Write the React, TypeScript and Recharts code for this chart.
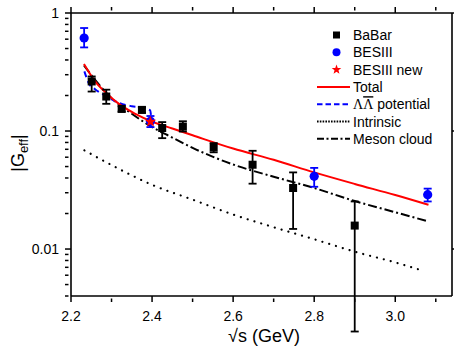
import {
  ComposedChart,
  XAxis,
  YAxis,
  Line,
  Scatter,
  ErrorBar,
  Legend,
  Label,
} from 'recharts';

const FONT = 'Arial, "Liberation Sans", sans-serif';

// axis ticks
const X_TICKS = [2.2, 2.3, 2.4, 2.5, 2.6, 2.7, 2.8, 2.9, 3.0, 3.1];
const X_LABELS = [2.2, 2.4, 2.6, 2.8, 3.0];
const Y_TICKS = [
  0.004, 0.005, 0.006, 0.007, 0.008, 0.009,
  0.01, 0.02, 0.03, 0.04, 0.05, 0.06, 0.07, 0.08, 0.09,
  0.1, 0.2, 0.3, 0.4, 0.5, 0.6, 0.7, 0.8, 0.9, 1,
];
const Y_LABELS = [0.01, 0.1, 1];

// BaBar
const BABAR_X = [2.251, 2.287, 2.325, 2.375, 2.425, 2.476, 2.552, 2.648, 2.748, 2.9];
const BABAR_Y = [0.263, 0.196, 0.154, 0.151, 0.106, 0.109, 0.0726, 0.0518, 0.0329, 0.0158];
const BABAR_LO = [0.216, 0.17, 0.146, 0.143, 0.087, 0.099, 0.066, 0.0358, 0.0148, 0.002];
const BABAR_HI = [0.29, 0.224, 0.162, 0.159, 0.119, 0.121, 0.079, 0.068, 0.0446, 0.0253];

// BESIII
const BES_X = [2.2324, 2.396, 2.8, 3.08];
const BES_Y = [0.614, 0.121, 0.0413, 0.0289];
const BES_LO = [0.511, 0.108, 0.0337, 0.0253];
const BES_HI = [0.746, 0.134, 0.0487, 0.0325];

// BESIII new
const NEW_X = [2.396];
const NEW_Y = [0.12];

// model curves
const TOTAL_X = [2.232, 2.26, 2.29, 2.32, 2.36, 2.4, 2.45, 2.5, 2.6, 2.7, 2.8, 2.9, 3.0, 3.082];
const TOTAL_Y = [0.37, 0.262, 0.205, 0.168, 0.139, 0.12, 0.105, 0.092, 0.071, 0.057, 0.0446, 0.0356, 0.0287, 0.0237];

const POT_X = [2.233, 2.245, 2.26, 2.29, 2.32, 2.35, 2.38, 2.395, 2.4];
const POT_Y = [0.32, 0.25, 0.225, 0.195, 0.172, 0.162, 0.157, 0.15, 0.108];

const INTR_X = [2.233, 2.3, 2.4, 2.5, 2.6, 2.7, 2.8, 2.9, 3.0, 3.065];
const INTR_Y = [0.0686, 0.0515, 0.035, 0.0262, 0.0196, 0.0153, 0.0121, 0.0095, 0.0077, 0.0066];

const MESON_X = [2.232, 2.26, 2.3, 2.35, 2.4, 2.45, 2.5, 2.6, 2.7, 2.8, 2.9, 3.0, 3.082];
const MESON_Y = [0.36, 0.27, 0.19, 0.14, 0.108, 0.088, 0.072, 0.052, 0.041, 0.0329, 0.0255, 0.0205, 0.0171];

const LEGEND_LABELS = ['BaBar', 'BESIII', 'BESIII new', 'Total', 'ΛΛ potential', 'Intrinsic', 'Meson cloud'];

const points = (xs: number[], ys: number[], lo?: number[], hi?: number[]) =>
  xs.map((x, i) => ({
    x,
    y: ys[i],
    err: lo && hi ? [ys[i] - lo[i], hi[i] - ys[i]] : undefined,
  }));

const babar = points(BABAR_X, BABAR_Y, BABAR_LO, BABAR_HI);
const besiii = points(BES_X, BES_Y, BES_LO, BES_HI);
const besNew = points(NEW_X, NEW_Y);
const total = points(TOTAL_X, TOTAL_Y);
const potential = points(POT_X, POT_Y);
const intrinsic = points(INTR_X, INTR_Y);
const meson = points(MESON_X, MESON_Y);

const starPath = (cx: number, cy: number, r: number) => {
  let d = '';
  for (let i = 0; i < 10; i++) {
    const rr = i % 2 === 0 ? r : r * 0.42;
    const a = -Math.PI / 2 + (i * Math.PI) / 5;
    d += (i === 0 ? 'M' : 'L') + (cx + rr * Math.cos(a)).toFixed(2) + ',' + (cy + rr * Math.sin(a)).toFixed(2);
  }
  return d + 'Z';
};

const Square = (p: any) => <rect x={p.cx - 4} y={p.cy - 4} width={8} height={8} fill="#000" />;
const Dot = (p: any) => <circle cx={p.cx} cy={p.cy} r={4.6} fill="#0000ff" />;
const Star = (p: any) => <path d={starPath(p.cx, p.cy, 6)} fill="#ff0000" />;

// ticks point inward; labels only on major ticks
const BottomTick = ({ x, y, payload }: any) => {
  const major = X_LABELS.includes(payload.value);
  return (
    <g>
      <line x1={x} x2={x} y1={y} y2={y - (major ? 6 : 3.5)} stroke="#000" strokeWidth={1.5} />
      {major && (
        <text x={x} y={y + 19} textAnchor="middle" fontSize={14} fontFamily={FONT} fill="#000">
          {payload.value.toFixed(1)}
        </text>
      )}
    </g>
  );
};

const TopTick = ({ x, y, payload }: any) => {
  const major = X_LABELS.includes(payload.value);
  return <line x1={x} x2={x} y1={y} y2={y + (major ? 6 : 3.5)} stroke="#000" strokeWidth={1.5} />;
};

const LeftTick = ({ x, y, payload }: any) => {
  const major = Y_LABELS.includes(payload.value);
  return (
    <g>
      <line x1={x} x2={x + (major ? 6 : 3.5)} y1={y} y2={y} stroke="#000" strokeWidth={1.5} />
      {major && (
        <text x={x - 6} y={y + 5} textAnchor="end" fontSize={14} fontFamily={FONT} fill="#000">
          {String(payload.value)}
        </text>
      )}
    </g>
  );
};

const RightTick = ({ x, y, payload }: any) => {
  const major = Y_LABELS.includes(payload.value);
  return <line x1={x} x2={x - (major ? 6 : 3.5)} y1={y} y2={y} stroke="#000" strokeWidth={1.5} />;
};

const renderLegend = () => {
  const rowH = 17.3;
  return (
    <svg width={130} height={125} style={{ display: 'block' }}>
      {LEGEND_LABELS.map((label, i) => {
        const cy = 9 + i * rowH;
        let sym: any = null;
        if (i === 0) sym = <rect x={17} y={cy - 3.5} width={7} height={7} fill="#000" />;
        if (i === 1) sym = <circle cx={20.5} cy={cy} r={4} fill="#0000ff" />;
        if (i === 2) sym = <path d={starPath(20.5, cy, 5)} fill="#ff0000" />;
        if (i === 3) sym = <line x1={1} x2={34} y1={cy} y2={cy} stroke="#ff0000" strokeWidth={2} />;
        if (i === 4)
          sym = <line x1={1} x2={34} y1={cy} y2={cy} stroke="#0000ff" strokeWidth={2} strokeDasharray="5.5 3" />;
        if (i === 5)
          sym = <line x1={1} x2={34} y1={cy} y2={cy} stroke="#000" strokeWidth={2} strokeDasharray="1.6 1.2" />;
        if (i === 6)
          sym = <line x1={1} x2={34} y1={cy} y2={cy} stroke="#000" strokeWidth={2} strokeDasharray="7 2.5 2 2.5" />;
        // the second Λ carries a bar (anti-lambda)
        const text =
          i === 4 ? (
            <text x={37} y={cy + 5} fontSize={14} fontFamily={FONT} fill="#000">
              <tspan fontFamily='"Liberation Serif", serif'>Λ</tspan>
              <tspan fontFamily='"Liberation Serif", serif' textDecoration="overline">
                Λ
              </tspan>
              <tspan> {label.split(' ')[1]}</tspan>
            </text>
          ) : (
            <text x={37} y={cy + 5} fontSize={14} fontFamily={FONT} fill="#000">
              {label}
            </text>
          );
        return (
          <g key={label}>
            {sym}
            {text}
          </g>
        );
      })}
    </svg>
  );
};

export default function App() {
  return (
    <div style={{ position: 'absolute', left: 0, top: 0, background: '#fff' }}>
      <ComposedChart width={454} height={346} margin={{ top: 12, right: 1, bottom: 0, left: 0 }}>
        <XAxis
          xAxisId="bottom"
          dataKey="x"
          type="number"
          domain={[2.2, 3.14]}
          allowDataOverflow
          ticks={X_TICKS}
          interval={0}
          tickLine={false}
          tickMargin={0}
          tick={BottomTick}
          height={50}
          axisLine={{ stroke: '#000', strokeWidth: 1.6 }}
        >
          <Label
            content={() => (
              <text x={264} y={342} textAnchor="middle" fontSize={18} fontFamily={FONT} fill="#000">
                √s (GeV)
              </text>
            )}
          />
        </XAxis>
        <XAxis
          xAxisId="top"
          orientation="top"
          dataKey="x"
          type="number"
          domain={[2.2, 3.14]}
          allowDataOverflow
          ticks={X_TICKS}
          interval={0}
          tickLine={false}
          tickMargin={0}
          tick={TopTick}
          height={1}
          axisLine={{ stroke: '#000', strokeWidth: 1.6 }}
        />
        <YAxis
          yAxisId="left"
          type="number"
          scale="log"
          domain={[0.004, 1]}
          allowDataOverflow
          ticks={Y_TICKS}
          interval={0}
          tickLine={false}
          tickMargin={0}
          tick={LeftTick}
          width={71}
          axisLine={{ stroke: '#000', strokeWidth: 1.6 }}
        >
          <Label
            content={() => (
              <text transform="translate(24,153) rotate(-90)" textAnchor="middle" fontSize={18} fontFamily={FONT} fill="#000">
                |G
                <tspan dy={4} fontSize={13}>
                  eff
                </tspan>
                <tspan dy={-4}>|</tspan>
              </text>
            )}
          />
        </YAxis>
        <YAxis
          yAxisId="right"
          orientation="right"
          type="number"
          scale="log"
          domain={[0.004, 1]}
          allowDataOverflow
          ticks={Y_TICKS}
          interval={0}
          tickLine={false}
          tickMargin={0}
          tick={RightTick}
          width={1}
          axisLine={{ stroke: '#000', strokeWidth: 1.6 }}
        />
        <Legend
          layout="vertical"
          align="center"
          verticalAlign="middle"
          content={renderLegend}
          wrapperStyle={{ left: 316, top: 26, width: 130, height: 125 }}
        />

        <Line
          data={intrinsic}
          dataKey="y"
          xAxisId="bottom"
          yAxisId="left"
          type="monotone"
          stroke="#000"
          strokeWidth={2.2}
          strokeDasharray="0.1 7"
          strokeLinecap="round"
          dot={false}
          isAnimationActive={false}
        />
        <Line
          data={meson}
          dataKey="y"
          xAxisId="bottom"
          yAxisId="left"
          type="monotone"
          stroke="#000"
          strokeWidth={2}
          strokeDasharray="9 3 2 3"
          dot={false}
          isAnimationActive={false}
        />
        <Line
          data={potential}
          dataKey="y"
          xAxisId="bottom"
          yAxisId="left"
          type="monotone"
          stroke="#0000ff"
          strokeWidth={2}
          strokeDasharray="6 4"
          dot={false}
          isAnimationActive={false}
        />
        <Line
          data={total}
          dataKey="y"
          xAxisId="bottom"
          yAxisId="left"
          type="monotone"
          stroke="#ff0000"
          strokeWidth={2}
          dot={false}
          isAnimationActive={false}
        />

        <Scatter data={babar} dataKey="y" xAxisId="bottom" yAxisId="left" shape={Square} isAnimationActive={false}>
          <ErrorBar dataKey="err" direction="y" width={4} stroke="#000" strokeWidth={1.8} isAnimationActive={false} />
        </Scatter>
        <Scatter data={besiii} dataKey="y" xAxisId="bottom" yAxisId="left" shape={Dot} isAnimationActive={false}>
          <ErrorBar dataKey="err" direction="y" width={4} stroke="#0000ff" strokeWidth={1.8} isAnimationActive={false} />
        </Scatter>
        <Scatter data={besNew} dataKey="y" xAxisId="bottom" yAxisId="left" shape={Star} isAnimationActive={false} />
      </ComposedChart>
    </div>
  );
}
